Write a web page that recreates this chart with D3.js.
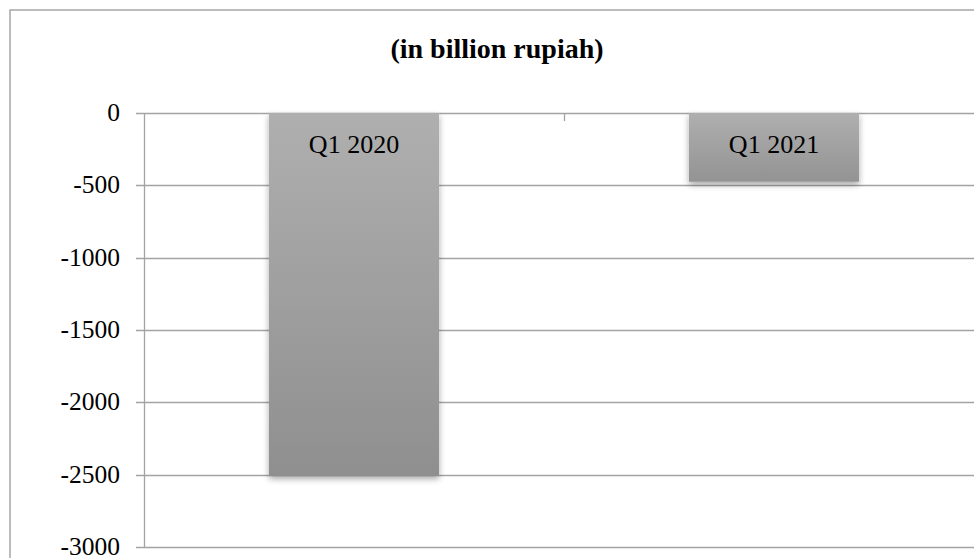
<!DOCTYPE html>
<html>
<head>
<meta charset="utf-8">
<script src="https://cdn.jsdelivr.net/npm/d3@7"></script>
<style>
html,body{margin:0;padding:0;background:#fff;}
svg{display:block;}
text{font-family:"Liberation Serif","Times New Roman",serif;}
</style>
</head>
<body>
<svg id="chart" width="974" height="558"></svg>
<script>
const categories = ["Q1 2020", "Q1 2021"];
const values = [-2508, -475];
const yTicks = [0, -500, -1000, -1500, -2000, -2500, -3000];
const title = "(in billion rupiah)";

const svg = d3.select("#chart");
const W = 974, H = 558;
const plot = {left: 144, right: 984, top: 113, bottom: 547};

const defs = svg.append("defs");
const grad = defs.append("linearGradient").attr("id","barGrad").attr("x1",0).attr("y1",0).attr("x2",0).attr("y2",1);
grad.append("stop").attr("offset","0%").attr("stop-color","#afafaf");
grad.append("stop").attr("offset","100%").attr("stop-color","#8f8f8f");
const grad2 = defs.append("linearGradient").attr("id","barGrad2").attr("x1",0).attr("y1",0).attr("x2",0).attr("y2",1);
grad2.append("stop").attr("offset","0%").attr("stop-color","#afafaf");
grad2.append("stop").attr("offset","100%").attr("stop-color","#939393");
const shadow = defs.append("filter").attr("id","shadow").attr("x","-10%").attr("y","-10%").attr("width","120%").attr("height","130%");
shadow.append("feDropShadow").attr("dx",0).attr("dy",3).attr("stdDeviation",3).attr("flood-color","#000").attr("flood-opacity",0.35);

// outer border
svg.append("rect").attr("x",10).attr("y",10).attr("width",W+10).attr("height",H+10)
  .attr("fill","#fff").attr("stroke","#a6a6a6").attr("stroke-width",1.5);

const y = d3.scaleLinear().domain([-3000, 0]).range([plot.bottom, plot.top]);
const x = d3.scaleBand().domain(categories).range([plot.left, plot.right]).paddingInner(0.595).paddingOuter(0.2975);
const xOuter = d3.scaleBand().domain(categories).range([plot.left, plot.right]);

// gridlines
svg.append("g").selectAll("line").data(yTicks).join("line")
  .attr("x1", plot.left - 8).attr("x2", W)
  .attr("y1", d => Math.round(y(d)) + 0.5).attr("y2", d => Math.round(y(d)) + 0.5)
  .attr("stroke", "#a3a3a3").attr("stroke-width", 1.3);

// y axis line
svg.append("line").attr("x1", plot.left + 0.5).attr("x2", plot.left + 0.5)
  .attr("y1", plot.top).attr("y2", plot.bottom + 1)
  .attr("stroke", "#a3a3a3").attr("stroke-width", 1.3);

// y tick labels
svg.append("g").selectAll("text").data(yTicks).join("text")
  .attr("x", 120).attr("y", d => y(d) + 8)
  .attr("text-anchor", "end").attr("font-size", 25.5).attr("fill", "#000")
  .text(d => d);

// category boundary ticks on the zero axis
svg.append("g").selectAll("line").data(categories.slice(1)).join("line")
  .attr("x1", d => xOuter(d) + 0.5).attr("x2", d => xOuter(d) + 0.5)
  .attr("y1", plot.top).attr("y2", plot.top + 8)
  .attr("stroke", "#a3a3a3").attr("stroke-width", 1.3);

// bars
svg.append("g").selectAll("rect").data(values).join("rect")
  .attr("x", (d, i) => x(categories[i]))
  .attr("width", x.bandwidth())
  .attr("y", y(0))
  .attr("height", d => y(d) - y(0))
  .attr("fill", (d, i) => i === 0 ? "url(#barGrad)" : "url(#barGrad2)")
  .attr("filter", "url(#shadow)");

// bar labels
svg.append("g").selectAll("text").data(values).join("text")
  .attr("x", (d, i) => x(categories[i]) + x.bandwidth() / 2)
  .attr("y", y(0) + 40)
  .attr("text-anchor", "middle").attr("font-size", 26).attr("fill", "#000")
  .text((d, i) => categories[i]);

// title
svg.append("text").attr("x", 497).attr("y", 58).attr("text-anchor", "middle")
  .attr("font-size", 28).attr("font-weight", "bold").text(title);
</script>
</body>
</html>
